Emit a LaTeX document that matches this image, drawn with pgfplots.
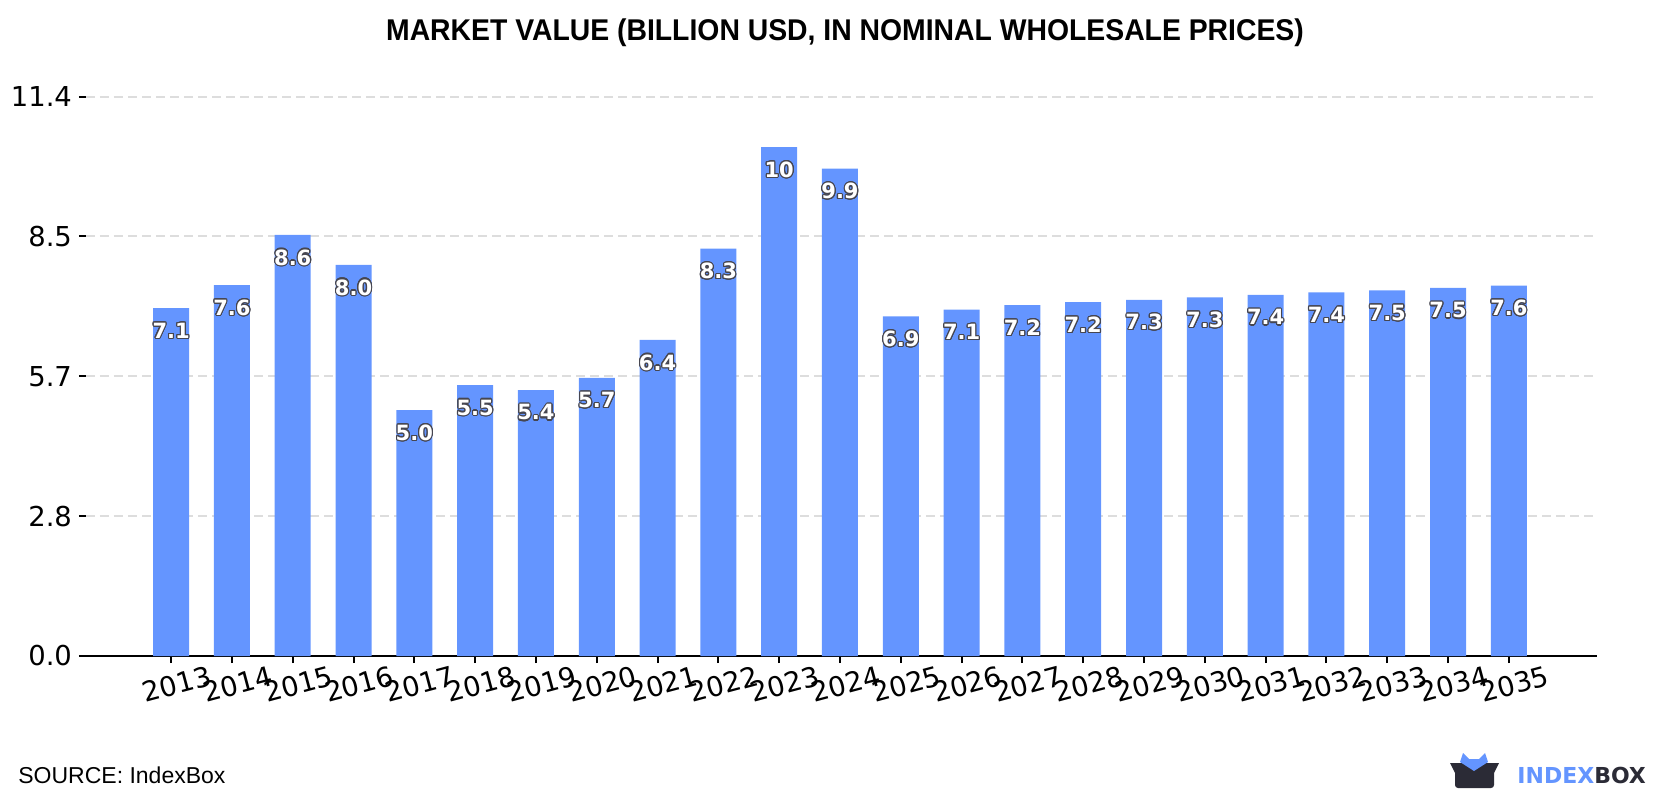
\documentclass[border=0pt]{standalone}
\usepackage{pgfplots}
\pgfplotsset{compat=1.18}
\usepackage{pgfplotstable}
\usepackage{fontspec}
\usepackage{contour}
\setmainfont{DejaVu Sans}
\newfontfamily\titlefont{Liberation Sans}
\definecolor{barblue}{RGB}{100,149,255}
\definecolor{griddash}{RGB}{221,221,221}
\definecolor{logodark}{RGB}{43,43,54}
\definecolor{outl}{RGB}{70,70,80}
\contourlength{0.55pt}
\contournumber{20}
\pgfplotstableread{
idx year val lab
0 2013 7.09 7.1
1 2014 7.56 7.6
2 2015 8.58 8.6
3 2016 7.97 8.0
4 2017 5.01 5.0
5 2018 5.52 5.5
6 2019 5.42 5.4
7 2020 5.67 5.7
8 2021 6.44 6.4
9 2022 8.30 8.3
10 2023 10.37 10
11 2024 9.93 9.9
12 2025 6.92 6.9
13 2026 7.06 7.1
14 2027 7.15 7.2
15 2028 7.21 7.2
16 2029 7.26 7.3
17 2030 7.31 7.3
18 2031 7.36 7.4
19 2032 7.41 7.4
20 2033 7.45 7.5
21 2034 7.50 7.5
22 2035 7.55 7.6
}\datatable
\begin{document}
\begin{tikzpicture}
\path[use as bounding box] (-43pt,-72pt) rectangle (797pt,328pt);
\begin{axis}[
  at={(0,0)}, anchor=south west,
  scale only axis,
  width=755.5pt, height=279.7pt,
  xmin=-1.4, xmax=23.45,
  ymin=0, ymax=11.4,
  axis x line*=bottom,
  axis y line*=left,
  y axis line style={draw=none},
  x axis line style={line width=1.15pt, black},
  tick align=outside,
  major tick length=3.5pt,
  tick style={line width=1pt, black},
  xtick={0,...,22},
  xticklabels={2013,2014,2015,2016,2017,2018,2019,2020,2021,2022,2023,2024,2025,2026,2027,2028,2029,2030,2031,2032,2033,2034,2035},
  ytick={0,2.85,5.7,8.55,11.4},
  yticklabels={0.0,2.8,5.7,8.5,11.4},
  /pgf/number format/assume math mode=true,
  ticklabel style={font=\fontsize{13.7}{16}\selectfont},
  xticklabel style={rotate=15, anchor=center, yshift=-11pt},
  ymajorgrids,
  grid style={griddash, line width=1pt, dash pattern=on 4.5pt off 2.5pt},
  axis on top=false,
  clip=false,
]
\addplot[ybar, bar width=18pt, fill=barblue, draw=none,
  nodes near coords={\contour{outl}{\textcolor{white}{\pgfplotspointmeta}}},
  point meta=explicit symbolic,
  every node near coord/.append style={anchor=center, yshift=-11.5pt, font=\bfseries\fontsize{10.5}{12}\selectfont, inner sep=0pt},
] table[x=idx, y=val, meta=lab] {\datatable};
\end{axis}
% title
\node[anchor=base, inner sep=0pt] at (379.5pt,307.6pt) {\scalebox{0.945}[1]{\titlefont\bfseries\fontsize{15}{18}\selectfont MARKET VALUE (BILLION USD, IN NOMINAL WHOLESALE PRICES)}};
% source
\node[anchor=base west, inner sep=0pt] at (-34pt,-63.5pt) {\titlefont\fontsize{11.5}{14}\selectfont SOURCE: IndexBox};
% logo
\fill[logodark] (682pt,-53.5pt) -- (706.5pt,-53.5pt) -- (704pt,-58.5pt) -- (684.5pt,-58.5pt) -- cycle;
\fill[logodark, rounded corners=1.5pt] (684.5pt,-57pt) -- (684.5pt,-66pt) -- (704pt,-66pt) -- (704pt,-57pt) -- cycle;
\fill[barblue] (687pt,-53pt) -- (688.5pt,-48.5pt) -- (691.5pt,-51.5pt) -- (696.5pt,-51.5pt) -- (699.5pt,-48.5pt) -- (701pt,-53pt) -- (694pt,-57.5pt) -- cycle;
\node[anchor=base west, inner sep=0pt] at (715.5pt,-63.5pt) {\bfseries\fontsize{11}{13}\selectfont\textcolor{barblue}{INDEX}\textcolor{logodark}{BOX}};
\end{tikzpicture}
\end{document}
